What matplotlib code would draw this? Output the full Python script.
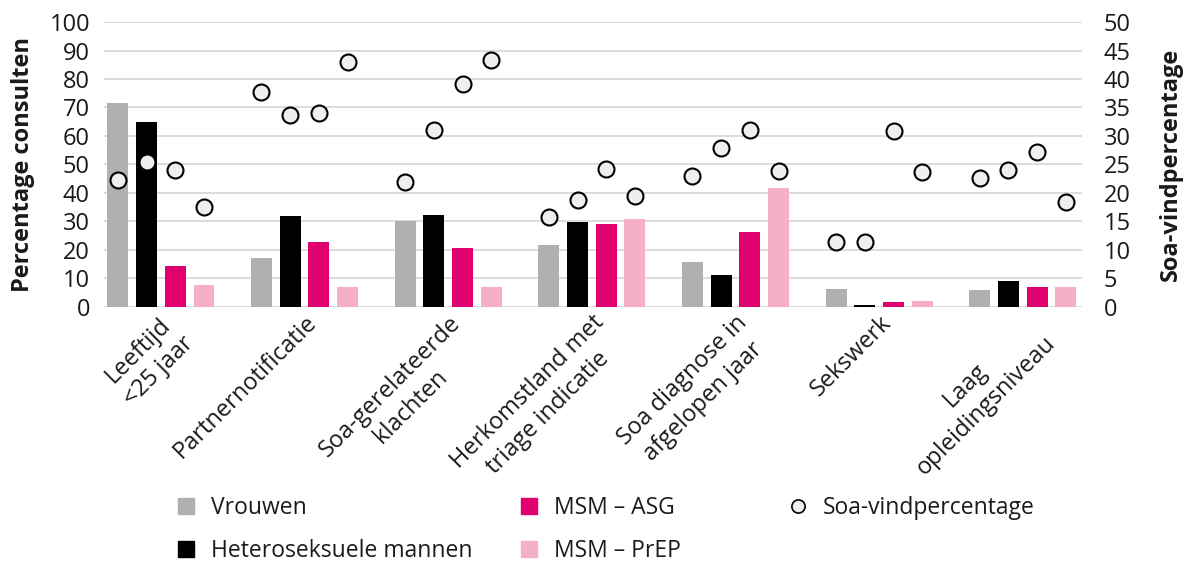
import numpy as np
import matplotlib
matplotlib.use('Agg')
import matplotlib.pyplot as plt
from matplotlib.lines import Line2D

plt.rcParams['font.family'] = ['Open Sans', 'DejaVu Sans']

# Data
categories = ['Leeftijd\n<25 jaar', 'Partnernotificatie', 'Soa-gerelateerde\nklachten',
              'Herkomstland met\ntriage indicatie', 'Soa diagnose in\nafgelopen jaar',
              'Sekswerk', 'Laag\nopleidingsniveau']
series_names = ['Vrouwen', 'Heteroseksuele mannen', 'MSM – ASG', 'MSM – PrEP']

vrouwen = [71.5, 17.2, 30.2, 21.8, 15.8, 6.3, 6.0]
hetero_mannen = [64.8, 31.9, 32.3, 29.8, 11.2, 0.5, 9.1]
msm_asg = [14.4, 22.8, 20.7, 29.1, 26.3, 1.8, 7.0]
msm_prep = [7.7, 7.0, 7.0, 30.9, 41.8, 2.1, 7.0]

# Soa-vindpercentage per group (right axis)
vind_vrouwen = [22.2, 37.8, 21.9, 15.8, 23.0, 11.3, 22.6]
vind_hetero = [25.5, 33.6, 31.0, 18.8, 27.8, 11.3, 24.0]
vind_asg = [24.0, 34.1, 39.2, 24.2, 31.0, 30.9, 27.2]
vind_prep = [17.5, 42.9, 43.4, 19.4, 23.9, 23.7, 18.4]

colors = ['#b0b0b0', '#000000', '#e0006e', '#f3b0c8']
text_color = '#1a1a1a'
grid_color = '#d9d9d9'
fs = 17

fig = plt.figure(figsize=(11.94, 5.65), dpi=100)
ax = fig.add_axes([0.087, 0.457, 0.819, 0.504])
ax2 = ax.twinx()

x = np.arange(len(categories))
offsets = (np.arange(4) - 1.5) * 0.2
width = 0.146

bar_data = [vrouwen, hetero_mannen, msm_asg, msm_prep]
vind_data = [vind_vrouwen, vind_hetero, vind_asg, vind_prep]

for i in range(4):
    ax.bar(x + offsets[i], bar_data[i], width, color=colors[i], zorder=2)
    ax2.plot(x + offsets[i], vind_data[i], ls='none', marker='o', markersize=11.5,
             markerfacecolor='#efefef', markeredgecolor='black', markeredgewidth=1.5,
             zorder=3, clip_on=False)

ax.set_xlim(-0.397, 6.41)
ax.set_ylim(0, 100)
ax2.set_ylim(0, 50)
ax.set_yticks(np.arange(0, 101, 10))
ax2.set_yticks(np.arange(0, 51, 5))

ax.yaxis.grid(True, color=grid_color, lw=1.3)
ax.set_axisbelow(True)
for a in (ax, ax2):
    for s in a.spines.values():
        s.set_visible(False)

ax.tick_params(axis='y', length=0, pad=10, labelsize=fs, labelcolor=text_color)
ax2.tick_params(axis='y', length=0, pad=16, labelsize=fs, labelcolor=text_color)
ax.tick_params(axis='x', length=0, pad=3)

ax.set_xticks(x)
ax.set_xticklabels(categories, rotation=45, ha='right', rotation_mode='anchor',
                   va='top', multialignment='center', fontsize=fs, color=text_color,
                   linespacing=1.3)

ax.set_ylabel('Percentage consulten', fontsize=fs, fontweight='bold', color=text_color, labelpad=10)
ax2.set_ylabel('Soa-vindpercentage', fontsize=fs, fontweight='bold', color=text_color, labelpad=20)

# Legend in three columns
def sq(c):
    return Line2D([], [], ls='none', marker='s', markersize=12, markerfacecolor=c,
                  markeredgecolor=c)

col1 = [sq(colors[0]), sq(colors[1])]
col2 = [sq(colors[2]), sq(colors[3])]
col3 = [Line2D([], [], ls='none', marker='o', markersize=9.5, markerfacecolor='#efefef',
               markeredgecolor='black', markeredgewidth=1.2)]

common = dict(frameon=False, fontsize=16.5, handlelength=1.0, handletextpad=0.55,
              borderpad=0, borderaxespad=0, labelspacing=0.85, loc='upper left',
              labelcolor=text_color)
y_leg = 1 - 496 / 565
fig.legend(col1, series_names[:2], bbox_to_anchor=(175 / 1194, y_leg), **common)
fig.legend(col2, series_names[2:], bbox_to_anchor=(518 / 1194, y_leg), **common)
fig.legend(col3, ['Soa-vindpercentage'], bbox_to_anchor=(787 / 1194, y_leg), **common)

fig.savefig('out.png', dpi=100)
